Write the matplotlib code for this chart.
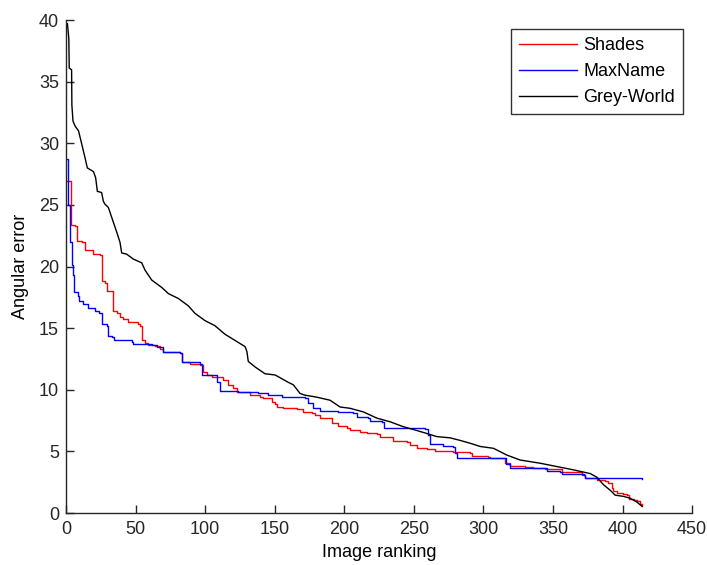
import matplotlib
matplotlib.use("Agg")
import matplotlib.pyplot as plt

# (image rank, angular error) breakpoints
shades = [(1, 26.9), (3.6, 26.85), (3.8, 23.4), (6.5, 23.3), (7.7, 22.1), (11.3, 21.95),
          (13.7, 21.3), (19.7, 21.0), (24.4, 20.9), (25.6, 18.85), (28, 18.7), (29.3, 18.05),
          (32.8, 18.05), (34, 16.4), (36.4, 16.2), (38.8, 15.9), (41.2, 15.75), (44.8, 15.5),
          (52, 15.3), (53.2, 15.2), (54.4, 14.0), (56.8, 13.8), (59.2, 13.65), (64, 13.55),
          (67.6, 13.3), (70, 13.1), (82, 12.95), (83.2, 12.26), (89.2, 12.1), (96.3, 12.04),
          (98.7, 11.45), (101.2, 11.2), (104.8, 11.0), (110.7, 11.0), (113.1, 10.77),
          (116.7, 10.37), (120.3, 10.16), (122.7, 9.83), (132.3, 9.56), (139.5, 9.43),
          (141.9, 9.3), (147.9, 8.97), (150.3, 8.86), (151.5, 8.62), (156.2, 8.48),
          (165.8, 8.43), (170.6, 8.16), (176.6, 8.08), (179, 7.95), (182.6, 7.73),
          (191, 7.27), (195.8, 7.08), (201.8, 6.87), (204.2, 6.73), (211.4, 6.6),
          (216.2, 6.46), (223.4, 6.38), (225.8, 6.2), (235.3, 5.85), (245, 5.74),
          (247.4, 5.52), (252.2, 5.3), (259.4, 5.2), (265.3, 5.04), (278.5, 4.93),
          (290.5, 4.85), (291.7, 4.66), (303.6, 4.58), (304.8, 4.44), (314.4, 4.44),
          (315.6, 4.04), (319.2, 3.85), (330, 3.77), (336, 3.64), (344.4, 3.58),
          (356.4, 3.31), (370.8, 3.1), (373.2, 2.88), (379.2, 2.83), (381.6, 2.65),
          (387.5, 2.56), (389.9, 2.42), (392.3, 2.0), (393.5, 1.75), (395.9, 1.6),
          (400.7, 1.56), (403.2, 1.48), (404.3, 1.16), (407.9, 1.08), (410.3, 0.94),
          (412.7, 0.73), (414, 0.55)]

maxname = [(1, 28.7), (1.5, 25.0), (2.9, 21.95), (4.1, 20.1), (5.3, 19.3), (5.8, 17.9),
           (8.9, 17.6), (9.6, 17.2), (12.5, 16.97), (16, 16.6), (20.9, 16.4), (24, 16.2),
           (25.6, 15.35), (29.3, 15.2), (30.4, 14.4), (32.8, 14.3), (34.5, 14.0),
           (47.2, 13.9), (48.4, 13.7), (55.6, 13.7), (61.6, 13.6), (65.2, 13.5),
           (70, 13.07), (82, 13.0), (83.2, 12.26), (96.3, 12.1), (98, 11.2), (107, 11.2),
           (108.8, 10.6), (110.7, 9.9), (123.9, 9.78), (138.3, 9.7), (145.5, 9.6),
           (155, 9.45), (156.2, 9.43), (171.8, 9.37), (174.2, 8.9), (177.8, 8.5),
           (182.6, 8.3), (195.8, 8.16), (206.6, 8.08), (209, 7.8), (217.4, 7.73),
           (218.6, 7.46), (227, 7.35), (228.2, 6.92), (245, 6.87), (258.1, 6.8),
           (260.5, 6.33), (261.7, 5.6), (271.3, 5.47), (278.5, 5.39), (279.7, 4.85),
           (280.9, 4.5), (314.4, 4.44), (316.4, 3.96), (319.2, 3.69), (344.4, 3.64),
           (345.6, 3.37), (355.2, 3.31), (356.4, 3.15), (372, 3.1), (373.2, 2.88),
           (392, 2.85), (414, 2.77)]

greyworld = [(1, 39.7), (2, 38.5), (2.3, 36.1), (4, 35.96), (4.2, 33.1), (5, 31.8),
             (6.5, 31.4), (9, 31.0), (10.5, 30.3), (12, 29.6), (13.7, 28.8), (15.3, 28.0),
             (19.7, 27.7), (21.3, 27.2), (22.5, 26.1), (25.6, 26.0), (26.8, 25.3),
             (28, 25.05), (30.4, 24.8), (34, 23.6), (36.4, 22.8), (38.8, 21.96), (40, 21.1),
             (43.6, 21.0), (48.4, 20.6), (54.4, 20.3), (56.8, 19.7), (61.6, 18.9),
             (68.8, 18.3), (73.6, 17.8), (80.8, 17.4), (88, 16.8), (92.7, 16.2),
             (100, 15.6), (107, 15.2), (114.3, 14.5), (121.5, 14.0), (128.7, 13.5),
             (130, 13.1), (131, 12.3), (135.9, 11.85), (143, 11.3), (150.3, 11.2),
             (159.8, 10.6), (163.4, 10.4), (168.2, 9.7), (171.8, 9.56), (180.2, 9.4),
             (189.8, 9.15), (197, 8.6), (204, 8.5), (213.8, 8.2), (223.4, 7.7),
             (233, 7.4), (242.5, 7.0), (252, 6.7), (259.4, 6.45), (266.5, 6.2),
             (276, 6.1), (283, 5.9), (290.5, 5.66), (297.7, 5.4), (307.2, 5.25),
             (316.9, 4.7), (326.4, 4.3), (340.8, 4.04), (352.8, 3.77), (364.8, 3.5),
             (376.8, 3.2), (381.6, 2.9), (386.3, 2.3), (391.1, 1.85), (394.7, 1.45),
             (400.7, 1.35), (405.5, 1.2), (410.3, 0.89), (414, 0.54)]

series_names = ["Shades", "MaxName", "Grey-World"]
series_colors = ["#ff0000", "#0000ff", "#000000"]
series_draw = ["steps-post", "steps-post", "default"]
x_ticks = [0, 50, 100, 150, 200, 250, 300, 350, 400, 450]
y_ticks = [0, 5, 10, 15, 20, 25, 30, 35, 40]

plt.rcParams['font.family'] = ['Liberation Sans', 'DejaVu Sans']

fig = plt.figure(figsize=(7.07, 5.65), dpi=100)
ax = fig.add_axes([0.0934, 0.0920, 0.8855, 0.8726])

for data, name, col, ds in zip([shades, maxname, greyworld], series_names,
                               series_colors, series_draw):
    xs = [p[0] for p in data]
    ys = [p[1] for p in data]
    ax.plot(xs, ys, color=col, lw=1.0, label=name, drawstyle=ds)

ax.set_xlim(0, 450)
ax.set_ylim(0, 40)
ax.set_xticks(x_ticks)
ax.set_yticks(y_ticks)
ax.tick_params(direction='in', length=6, width=1, labelsize=13, colors='#262626',
               top=False, right=False)
ax.tick_params(axis='x', pad=6)
ax.tick_params(axis='y', pad=5)
for s in ['top', 'right']:
    ax.spines[s].set_visible(False)
for s in ['left', 'bottom']:
    ax.spines[s].set_color('#262626')
    ax.spines[s].set_linewidth(1.0)

ax.set_xlabel("Image ranking", fontsize=13, labelpad=4)
ax.set_ylabel("Angular error", fontsize=13, labelpad=7)

leg = ax.legend(loc='upper right', bbox_to_anchor=(0.986, 0.982), fontsize=13,
                frameon=True, fancybox=False, edgecolor='black', borderpad=0.45,
                handlelength=3.2, labelspacing=0.5, handletextpad=0.35, borderaxespad=0)
leg.get_frame().set_linewidth(1.0)

fig.savefig("out.png", dpi=100)
